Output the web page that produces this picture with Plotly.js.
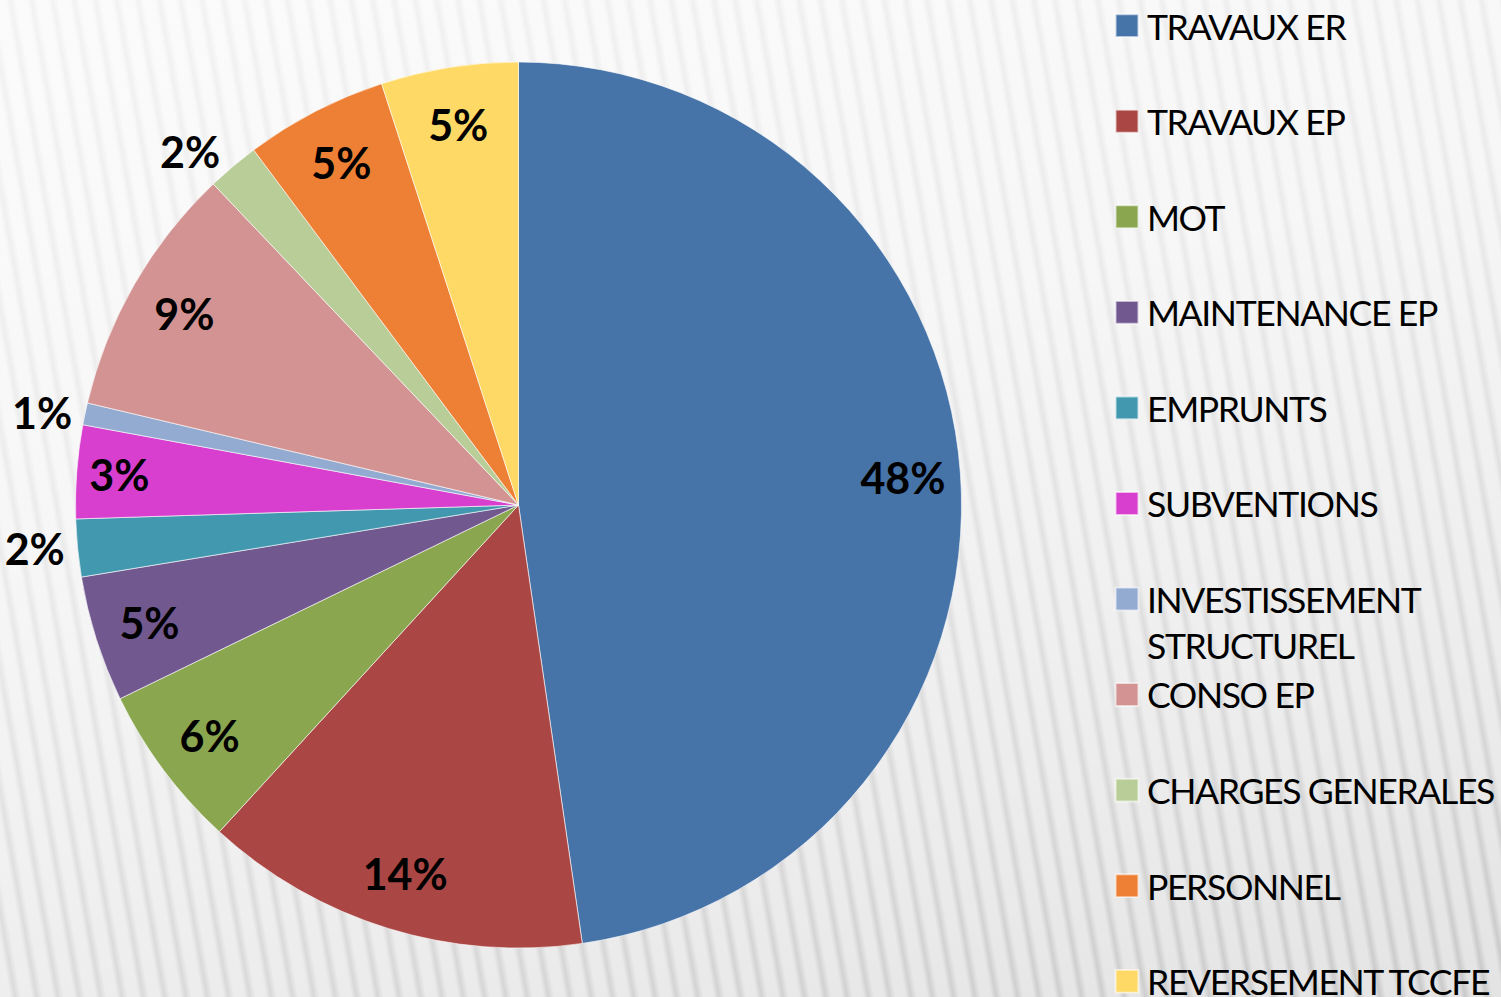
<!DOCTYPE html>
<html>
<head>
<meta charset="utf-8">
<script src="https://cdn.plot.ly/plotly-3.0.1.min.js"></script>
<style>
  html, body { margin: 0; padding: 0; width: 1501px; height: 997px; overflow: hidden; }
  body {
    background:
      repeating-linear-gradient(80deg, rgba(255,255,255,0.45) 0px, rgba(255,255,255,0.45) 10px, rgba(0,0,0,0.025) 15px, rgba(255,255,255,0.45) 21px),
      linear-gradient(165deg, #f8f8f8 0%, #f0f0f0 40%, #dedede 75%, #cdcdcd 100%);
  }
  #chart { width: 1501px; height: 997px; }
  .legendpie { transform: translate(20px, 0px) scale(1.9); }
  .legendtext { letter-spacing: -1.4px; }
</style>
</head>
<body>
<div id="chart"></div>
<script>
// Categories (legend order = slice order, clockwise from 12 o'clock)
const categories = [
  "TRAVAUX ER",
  "TRAVAUX EP",
  "MOT",
  "MAINTENANCE EP",
  "EMPRUNTS",
  "SUBVENTIONS",
  "INVESTISSEMENT<br>STRUCTUREL",
  "CONSO EP",
  "CHARGES GENERALES",
  "PERSONNEL",
  "REVERSEMENT TCCFE"
];
// Shares (%)
const shares = [47.7, 14.1, 6.0, 4.6, 2.1, 3.4, 0.8, 9.2, 1.9, 5.2, 5.0];

const sliceColors = [
  "#4673A8", "#AA4744", "#8AA64F", "#71588F", "#4198AF",
  "#D93FCE", "#93AAD1", "#D29392", "#B8CD97", "#EE8035", "#FFD966"
];
const outsideLabelled = ["EMPRUNTS", "INVESTISSEMENT<br>STRUCTUREL", "CHARGES GENERALES"];

// legend entries: pad each to two lines so entries are evenly spaced
const legendLabels = categories.map((c, i) =>
  (c.indexOf("<br>") >= 0 || i === categories.length - 1) ? c : c + "<br>\u00a0");

const pieDomain = { x: [0.0503, 0.6406], y: [0.0491, 0.9378] };
const labelFont = { family: "Lato, 'Open Sans', sans-serif", size: 43, color: "#000000", weight: "bold" };

// the pie itself
const pieTrace = {
  type: "pie",
  labels: legendLabels,
  values: shares,
  sort: false,
  direction: "clockwise",
  rotation: 0,
  marker: { colors: sliceColors, line: { color: "rgba(255,255,255,0.6)", width: 1 } },
  textinfo: "none",
  domain: pieDomain,
  hoverinfo: "label+percent"
};

// transparent ring with the same values: places the percent labels near the rim
const labelTrace = {
  type: "pie",
  labels: legendLabels,
  values: shares,
  sort: false,
  direction: "clockwise",
  rotation: 0,
  hole: 0.74,
  showlegend: false,
  marker: { colors: categories.map(() => "rgba(0,0,0,0)"), line: { width: 0 } },
  textinfo: "percent",
  texttemplate: "%{percent:.0%}",
  textposition: categories.map(c => outsideLabelled.includes(c) ? "outside" : "inside"),
  insidetextorientation: "horizontal",
  textfont: labelFont,
  insidetextfont: labelFont,
  outsidetextfont: labelFont,
  domain: pieDomain,
  hoverinfo: "skip"
};

const layout = {
  width: 1501,
  height: 997,
  margin: { l: 0, r: 0, t: 0, b: 0, autoexpand: false },
  paper_bgcolor: "rgba(0,0,0,0)",
  plot_bgcolor: "rgba(0,0,0,0)",
  showlegend: true,
  uniformtext: { mode: "show", minsize: 43 },
  legend: {
    x: 0.7375, xanchor: "left",
    y: 1.004, yanchor: "top",
    valign: "top",
    bgcolor: "rgba(0,0,0,0)",
    font: { family: "Lato, 'Open Sans', sans-serif", size: 35.6, color: "#000000" },
    maxheight: 3000,
    traceorder: "normal"
  }
};

Plotly.newPlot("chart", [pieTrace, labelTrace], layout, { displayModeBar: false, staticPlot: true });
</script>
</body>
</html>
